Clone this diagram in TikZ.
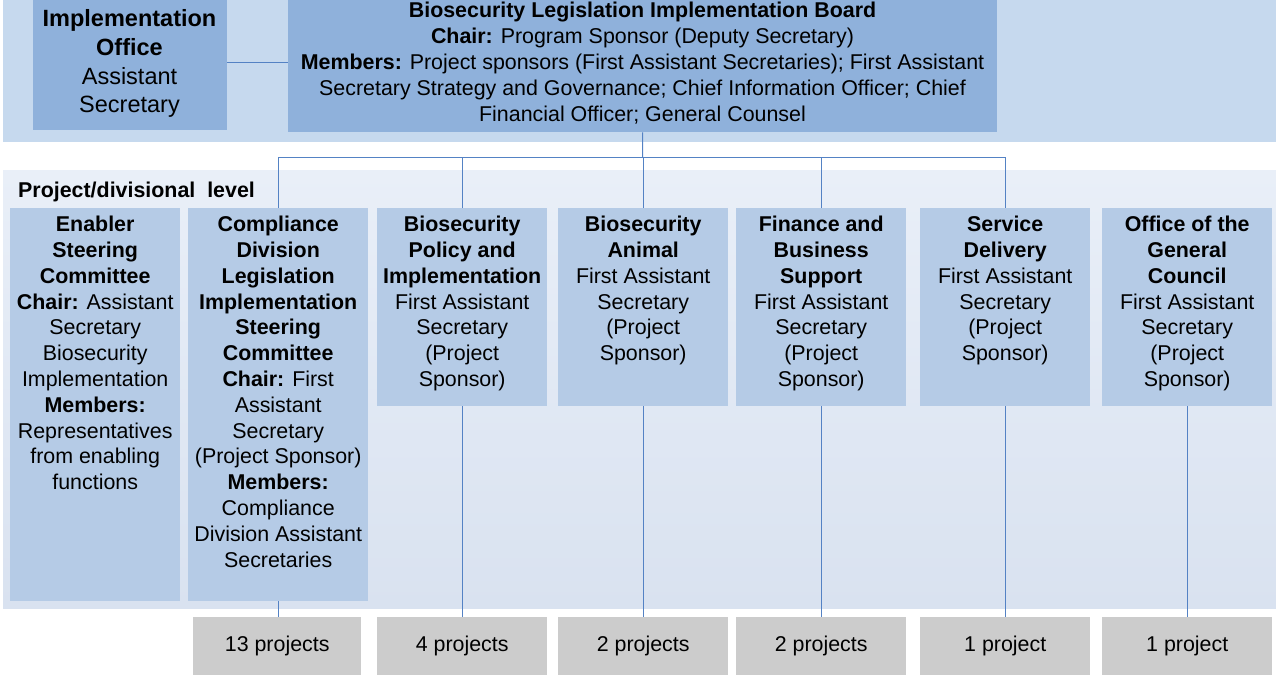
\documentclass[tikz,border=0pt]{standalone}
\usepackage{fontspec}
\setmainfont{Liberation Sans}
\definecolor{bandtop}{RGB}{198,217,238}
\definecolor{bandlo}{RGB}{233,239,248}
\definecolor{bandhi}{RGB}{217,226,240}
\definecolor{midblue}{RGB}{143,177,219}
\definecolor{colblue}{RGB}{181,203,230}
\definecolor{graybox}{RGB}{204,204,204}
\definecolor{linkblue}{RGB}{84,130,196}
\tikzset{
  box/.style={draw=none, inner sep=0pt, anchor=north west},
  topbox/.style={box, fill=midblue},
  colbox/.style={box, fill=colblue},
  projbox/.style={box, fill=graybox, font=\fontsize{21.4}{25.8}\selectfont},
  txt/.style={inner sep=0pt, anchor=north, align=center, font=\fontsize{21.4}{25.8}\selectfont},
  coltxt/.style={txt, yshift=-8pt},
  link/.style={draw=linkblue, line width=1pt}
}
\begin{document}
\begin{tikzpicture}[x=1pt,y=-1pt]
\useasboundingbox (0,0) rectangle (1276,675);
% bands
\fill[bandtop] (3,0) rectangle (1276,142);
\shade[top color=bandlo, bottom color=bandhi] (3,170) rectangle (1276,608);
% top level
\node[topbox, minimum width=194, minimum height=130] (impl) at (33,0) {};
\node[txt, font=\fontsize{23.5}{28.7}\selectfont] (implt) at (129.5,9.5)
  {\textbf{Implementation}\\\textbf{Office}\\Assistant\\Secretary};
\node[topbox, minimum width=709, minimum height=132] (board) at (288,0) {};
\node[txt] (boardt) at (642.5,2.2)
  {\textbf{Biosecurity Legislation Implementation Board}\\
   \textbf{Chair:} Program Sponsor (Deputy Secretary)\\
   \textbf{Members:} Project sponsors (First Assistant Secretaries); First Assistant\\
   Secretary Strategy and Governance; Chief Information Officer; Chief\\
   Financial Officer; General Counsel};
\draw[link] (impl.east |- 0,62) -- (board.west |- 0,62);
% level label
\node[inner sep=0pt, anchor=base west, font=\bfseries\fontsize{21.4}{25.8}\selectfont] (lvl) at (18,197) {Project/divisional\ \ level};
% column boxes
\node[colbox, minimum width=170, minimum height=393] (en) at (10,208) {};
\node[colbox, minimum width=180, minimum height=393] (co) at (188,208) {};
\node[colbox, minimum width=170, minimum height=198] (po) at (377,208) {};
\node[colbox, minimum width=170, minimum height=198] (an) at (558,208) {};
\node[colbox, minimum width=170, minimum height=198] (fi) at (736,208) {};
\node[colbox, minimum width=170, minimum height=198] (sd) at (920,208) {};
\node[colbox, minimum width=170, minimum height=198] (og) at (1102,208) {};
% column texts
\node[coltxt] (ent) at (en.north)
  {\textbf{Enabler}\\\textbf{Steering}\\\textbf{Committee}\\\textbf{Chair:} Assistant\\Secretary\\Biosecurity\\Implementation\\\textbf{Members:}\\Representatives\\from enabling\\functions};
\node[coltxt] (cot) at (co.north)
  {\textbf{Compliance}\\\textbf{Division}\\\textbf{Legislation}\\\textbf{Implementation}\\\textbf{Steering}\\\textbf{Committee}\\\textbf{Chair:} First\\Assistant\\Secretary\\(Project Sponsor)\\\textbf{Members:}\\Compliance\\Division Assistant\\Secretaries};
\node[coltxt] (pot) at (po.north)
  {\textbf{Biosecurity}\\\textbf{Policy and}\\\textbf{Implementation}\\First Assistant\\Secretary\\(Project\\Sponsor)};
\node[coltxt] (ant) at (an.north)
  {\textbf{Biosecurity}\\\textbf{Animal}\\First Assistant\\Secretary\\(Project\\Sponsor)};
\node[coltxt] (fit) at (fi.north)
  {\textbf{Finance and}\\\textbf{Business}\\\textbf{Support}\\First Assistant\\Secretary\\(Project\\Sponsor)};
\node[coltxt] (sdt) at (sd.north)
  {\textbf{Service}\\\textbf{Delivery}\\First Assistant\\Secretary\\(Project\\Sponsor)};
\node[coltxt] (ogt) at (og.north)
  {\textbf{Office of the}\\\textbf{General}\\\textbf{Council}\\First Assistant\\Secretary\\(Project\\Sponsor)};
% project boxes
\node[projbox, minimum width=168, minimum height=58] (p13) at (193,617) {};
\node[font=\fontsize{21.4}{25.8}\selectfont, inner sep=0pt] (p13t) at (p13.center) {13 projects};
\node[projbox, minimum width=170, minimum height=58] (p4) at (377,617) {};
\node[font=\fontsize{21.4}{25.8}\selectfont, inner sep=0pt] (p4t) at (p4.center) {4 projects};
\node[projbox, minimum width=170, minimum height=58] (p2a) at (558,617) {};
\node[font=\fontsize{21.4}{25.8}\selectfont, inner sep=0pt] (p2at) at (p2a.center) {2 projects};
\node[projbox, minimum width=170, minimum height=58] (p2b) at (736,617) {};
\node[font=\fontsize{21.4}{25.8}\selectfont, inner sep=0pt] (p2bt) at (p2b.center) {2 projects};
\node[projbox, minimum width=170, minimum height=58] (p1a) at (920,617) {};
\node[font=\fontsize{21.4}{25.8}\selectfont, inner sep=0pt] (p1at) at (p1a.center) {1 project};
\node[projbox, minimum width=170, minimum height=58] (p1b) at (1102,617) {};
\node[font=\fontsize{21.4}{25.8}\selectfont, inner sep=0pt] (p1bt) at (p1b.center) {1 project};
% connectors
\coordinate (bus) at (642.5,157);
\draw[link] (board.south) -- (bus);
\draw[link] (co.north) -- (co.north |- bus) -- (sd.north |- bus) -- (sd.north);
\draw[link] (po.north) -- (po.north |- bus);
\draw[link] (an.north) -- (an.north |- bus);
\draw[link] (fi.north) -- (fi.north |- bus);
\draw[link] (co.south) -- (co.south |- p13.north);
\draw[link] (po.south) -- (p4.north);
\draw[link] (an.south) -- (p2a.north);
\draw[link] (fi.south) -- (p2b.north);
\draw[link] (sd.south) -- (p1a.north);
\draw[link] (og.south) -- (p1b.north);
\end{tikzpicture}
\end{document}
